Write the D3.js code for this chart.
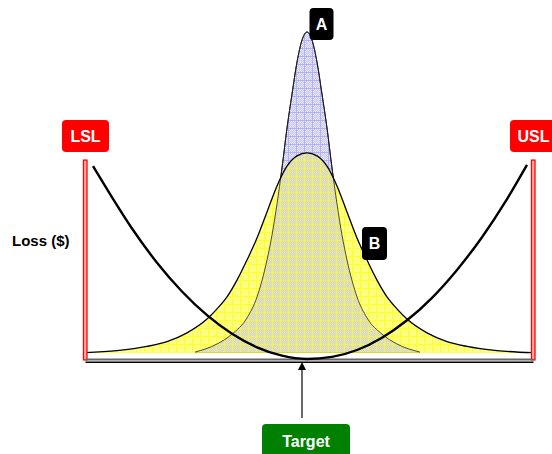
<!DOCTYPE html>
<meta charset="utf-8">
<script src="https://d3js.org/d3.v7.min.js"></script>
<style>
  body { margin: 0; background: #fff; }
  text { font-family: Arial, "Liberation Sans", sans-serif; font-weight: bold; }
</style>
<body>
<div id="chart"></div>
<script>
var width = 552, height = 454;

// spec limits and target (process units, 0 = centre of the two spreads)
var specLabels = ["LSL", "USL"];
var specLimits = [-44.3, 45.3];
var targetLabel = "Target";
var targetValue = -1;

// process A : narrow spread
var aX = [-22.4, -18, -15, -12, -10, -8, -7, -6, -5, -4, -3, -2, -1, 0, 1, 2, 3, 4, 5, 6, 7, 8, 10, 12, 15, 18, 22.6];
var aY = [2.3, 5, 8.3, 13.7, 20.7, 33, 41.3, 51.7, 63.7, 77, 88.3, 99, 106.3, 109, 106.3, 99, 88.3, 77, 63.7, 51.7, 41.3, 33, 20.7, 13.7, 8.3, 5, 2.3];

// process B : wide spread
var bX = [-44.4, -38, -32, -28, -24, -20, -18, -16, -14, -12, -10, -8, -6, -4, -2, 0, 2, 4, 6, 8, 10, 12, 14, 16, 18, 20, 24, 28, 32, 38, 45.2];
var bY = [2.1, 2.8, 4.2, 5.8, 8.7, 13.3, 16.7, 20.7, 26.3, 33, 40.3, 49, 57.7, 64.3, 67.7, 68.7, 67.7, 64.3, 57.7, 49, 40.3, 33, 26.3, 20.7, 16.7, 13.3, 8.7, 5.8, 4.2, 2.8, 2.1];

// quality loss ($)
var lossX = [-42.8, -40, -35, -30, -25, -20, -15, -10, -5, 0, 5, 10, 15, 20, 25, 30, 35, 40, 44];
var lossY = [64.3, 56.6, 43.5, 32.1, 22.5, 14.6, 8.4, 3.9, 1.1, 0, 0.7, 3.0, 7.1, 12.9, 20.4, 29.7, 40.6, 53.3, 64.7];

var x = d3.scaleLinear().domain([-45, 45]).range([82, 532]);
var y = d3.scaleLinear().domain([0, 110]).range([359, 29]);

var svg = d3.select("#chart")
  .append("svg")
    .attr("width", width)
    .attr("height", height);

var defs = svg.append("defs");

// small grid patterns like the office "dotted grid" fill
function gridPattern(id, base, speck, grid) {
  var p = defs.append("pattern")
    .attr("id", id)
    .attr("width", 8).attr("height", 8)
    .attr("patternUnits", "userSpaceOnUse");
  p.append("rect").attr("width", 8).attr("height", 8).attr("fill", base);
  for (var i = 1; i < 8; i++) {
    for (var j = 1; j < 8; j++) {
      if ((i + j) % 2 == 0) p.append("rect").attr("x", i).attr("y", j).attr("width", 1).attr("height", 1).attr("fill", speck);
    }
  }
  p.append("rect").attr("width", 8).attr("height", 1).attr("fill", grid);
  p.append("rect").attr("width", 1).attr("height", 8).attr("fill", grid);
}
gridPattern("pA", "#c6c6f8", "#e6e6ff", "#b2b2f0");
gridPattern("pB", "#ffff5c", "#ffffa8", "#ffff20");
gridPattern("pAB", "#d3d3c6", "#e8e8a8", "#f0f060");

var line = d3.line()
  .x(function(d) { return x(d[0]); })
  .y(function(d) { return y(d[1]); })
  .curve(d3.curveMonotoneX);

var aData = d3.zip(aX, aY);
var bData = d3.zip(bX, bY);
var lossData = d3.zip(lossX, lossY);

defs.append("clipPath")
  .attr("id", "clipA")
  .append("path")
    .attr("d", line(aData) + "Z");

svg.append("path")
  .attr("d", line(aData) + "Z")
  .attr("fill", "url(#pA)")
  .attr("stroke", "#000")
  .attr("stroke-width", 1);

svg.append("path")
  .attr("d", line(bData) + "Z")
  .attr("fill", "url(#pB)");

// where the two spreads overlap
svg.append("path")
  .attr("d", line(bData) + "Z")
  .attr("clip-path", "url(#clipA)")
  .attr("fill", "url(#pAB)");

svg.append("path")
  .attr("d", line(aData))
  .attr("fill", "none")
  .attr("stroke", "#222")
  .attr("stroke-width", 0.8);

svg.append("path")
  .attr("d", line(bData))
  .attr("fill", "none")
  .attr("stroke", "#000")
  .attr("stroke-width", 1.3);

// spec limit lines
svg.selectAll(".spec")
  .data(specLimits)
  .enter()
  .append("rect")
    .attr("class", "spec")
    .attr("x", function(d) { return x(d) - 2; })
    .attr("y", y(66.3))
    .attr("width", 3.5)
    .attr("height", y(-0.3) - y(66.3))
    .attr("fill", "#ffb0b0")
    .attr("stroke", "#ff0000")
    .attr("stroke-width", 1.3);

// baseline (double line)
svg.append("line")
  .attr("x1", x(specLimits[0])).attr("x2", x(specLimits[1]))
  .attr("y1", y(0) + 0.5).attr("y2", y(0) + 0.5)
  .attr("stroke", "#666").attr("stroke-width", 1.8);
svg.append("line")
  .attr("x1", x(specLimits[0])).attr("x2", x(specLimits[1]))
  .attr("y1", y(0) + 3.2).attr("y2", y(0) + 3.2)
  .attr("stroke", "#000").attr("stroke-width", 1.4);

// loss curve
svg.append("path")
  .attr("d", line(lossData))
  .attr("fill", "none")
  .attr("stroke", "#000")
  .attr("stroke-width", 2.4);

// target arrow
var tx = x(targetValue);
svg.append("line")
  .attr("x1", tx).attr("x2", tx)
  .attr("y1", 418).attr("y2", y(0) + 9)
  .attr("stroke", "#444").attr("stroke-width", 1.6);
svg.append("path")
  .attr("d", "M" + tx + "," + (y(0) + 3) + "l-4,8h8z")
  .attr("fill", "#000");

// label boxes
function tag(cx, top, w, h, fill, label) {
  svg.append("rect")
    .attr("x", cx - w / 2).attr("y", top)
    .attr("width", w).attr("height", h)
    .attr("rx", 4).attr("ry", 4)
    .attr("fill", fill);
  svg.append("text")
    .attr("x", cx).attr("y", top + h / 2 + 5.7)
    .attr("text-anchor", "middle")
    .attr("fill", "#fff")
    .attr("font-size", "16px")
    .text(label);
}

specLimits.forEach(function(d, k) { tag(x(d), 120, 47, 32, "#ff0000", specLabels[k]); });
tag(x(2.9), 8, 24, 32, "#000", "A");
tag(x(13.5), 227, 25, 33, "#000", "B");
tag(x(targetValue) + 4, 424, 88, 34, "#008000", targetLabel);

svg.append("text")
  .attr("x", 12).attr("y", 246)
  .attr("fill", "#000")
  .attr("font-size", "15px")
  .text("Loss ($)");
</script>
</body>
